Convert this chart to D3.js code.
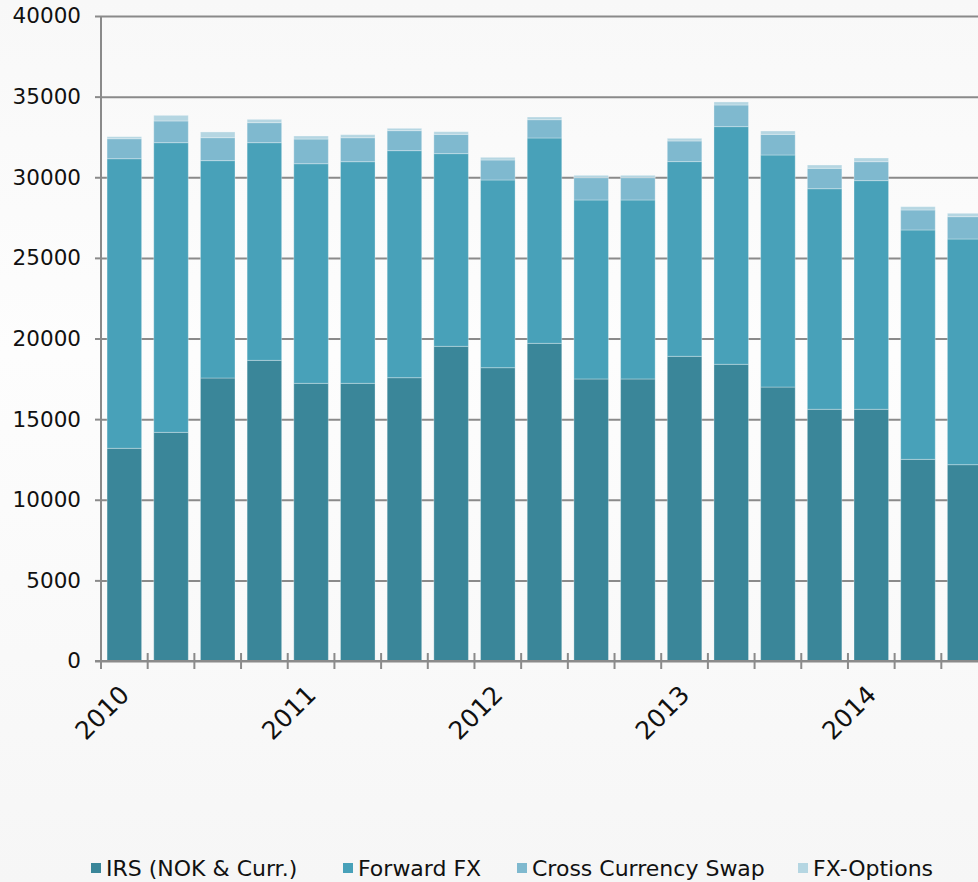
<!DOCTYPE html>
<html>
<head>
<meta charset="utf-8">
<script src="https://cdn.jsdelivr.net/npm/d3@7"></script>
<style>
  body { margin: 0; background: #fafafa; }
  #chart svg { display: block; font-family: "DejaVu Sans", Verdana, sans-serif; }
</style>
</head>
<body>
<div id="chart"></div>
<script>
// quarters, only the first of each year gets a label
const quarters = ["2010 Q1","2010 Q2","2010 Q3","2010 Q4","2011 Q1","2011 Q2","2011 Q3","2011 Q4",
  "2012 Q1","2012 Q2","2012 Q3","2012 Q4","2013 Q1","2013 Q2","2013 Q3","2013 Q4",
  "2014 Q1","2014 Q2","2014 Q3"];
const yearLabels = ["2010","2011","2012","2013","2014"];

const seriesNames = ["IRS (NOK & Curr.)", "Forward FX", "Cross Currency Swap", "FX-Options"];
const irs     = [13190,14180,17550,18645,17220,17220,17570,19515,18190,19700,17490,17490,18895,18400,16990,15610,15610,12505,12175];
const forward = [17960,17965,13480,13500,13620,13745,14080,11950,11640,12735,11100,11100,12075,14740,14390,13680,14180,14225,13995];
const ccs     = [1240,1345,1425,1240,1530,1485,1240,1195,1240,1135,1385,1385,1280,1340,1280,1265,1175,1240,1385];
const fxOpt   = [125,350,355,205,190,190,145,165,165,165,145,145,165,190,210,205,230,205,210];
const yTicks = [0,5000,10000,15000,20000,25000,30000,35000,40000];

const colors = ["#3a8699", "#48a1b9", "#7fb9cf", "#b5d6e2"];

const width = 978, height = 882,
    margin = ({ top: 16, right: -10, bottom: 221, left: 101 });

const svg = d3.select("#chart")
  .append("svg")
  .attr("width", width)
  .attr("height", height);

// faint background gradient
const grad = svg.append("defs").append("linearGradient")
  .attr("id", "bg").attr("x1", 0).attr("y1", 0).attr("x2", 0).attr("y2", 1);
grad.append("stop").attr("offset", "0%").attr("stop-color", "#f8f8f8");
grad.append("stop").attr("offset", "40%").attr("stop-color", "#fdfdfd");
grad.append("stop").attr("offset", "100%").attr("stop-color", "#f6f6f6");
svg.append("rect").attr("width", width).attr("height", height).attr("fill", "url(#bg)");

const table = quarters.map((q, i) => ({
  q, irs: irs[i], forward: forward[i], ccs: ccs[i], fxOpt: fxOpt[i]
}));
const keys = ["irs", "forward", "ccs", "fxOpt"];
const stacked = d3.stack().keys(keys)(table);

const x = d3.scaleBand()
  .domain(quarters)
  .range([margin.left, width - margin.right])
  .paddingInner(0.26)
  .paddingOuter(0.13);

const y = d3.scaleLinear()
  .domain([0, 40000])
  .range([height - margin.bottom, margin.top]);

// gridlines + y labels
const yAxis = svg.append("g")
  .attr("transform", `translate(${margin.left},0)`)
  .call(d3.axisLeft(y)
    .tickValues(yTicks)
    .tickSize(6)
    .tickFormat(d3.format("d")));
yAxis.attr("font-size", "21.5px").attr("font-family", null);
yAxis.select(".domain").remove();
yAxis.selectAll(".tick line").clone()
  .attr("x2", width - margin.left);
yAxis.selectAll(".tick line").attr("stroke", "#8a8a8a").attr("stroke-width", 2);
yAxis.selectAll(".tick text")
  .attr("x", -20)
  .attr("fill", "#111");

// bars
svg.append("g")
  .selectAll("g")
  .data(stacked)
  .join("g")
    .attr("fill", (d, i) => colors[i])
  .selectAll("rect")
  .data(d => d)
  .join("rect")
    .attr("x", d => x(d.data.q))
    .attr("width", x.bandwidth())
    .attr("y", d => y(d[1]))
    .attr("height", d => y(d[0]) - y(d[1]))
    .attr("stroke", "rgba(255,255,255,0.3)")
    .attr("stroke-width", 1);

// x axis with a tick at every band edge
const step = x.step();
const edges = quarters.map((q, i) => margin.left + i * step);
const xg = svg.append("g");
xg.append("line")
  .attr("x1", margin.left - 6).attr("x2", width)
  .attr("y1", y(0)).attr("y2", y(0))
  .attr("stroke", "#8a8a8a").attr("stroke-width", 2);
xg.selectAll(".xt")
  .data(edges)
  .join("line")
    .attr("class", "xt")
    .attr("x1", d => d).attr("x2", d => d)
    .attr("y1", y(0) - 8).attr("y2", y(0) + 8)
    .attr("stroke", "#8a8a8a").attr("stroke-width", 2);
// y axis line
svg.append("line")
  .attr("x1", margin.left).attr("x2", margin.left)
  .attr("y1", y(40000)).attr("y2", y(0) + 8)
  .attr("stroke", "#8a8a8a").attr("stroke-width", 2);

// year labels under the first quarter of each year
xg.selectAll(".yl")
  .data(yearLabels)
  .join("text")
    .attr("class", "yl")
    .attr("transform", d => `translate(${x(d + " Q1") + x.bandwidth() / 2 - 6},${y(0) + 23}) rotate(-45)`)
    .attr("text-anchor", "end")
    .attr("dy", "0.7em")
    .attr("fill", "#111")
    .attr("font-size", "25px")
    .text(d => d);

// legend, item offsets follow the original layout
const legendX = [0, 252, 426, 707];
const legend = svg.append("g").attr("transform", `translate(91,868)`);
seriesNames.forEach((name, i) => {
  const g = legend.append("g").attr("transform", `translate(${legendX[i]},0)`);
  g.append("rect")
    .attr("y", -5).attr("width", 10).attr("height", 10)
    .attr("fill", colors[i]);
  g.append("text")
    .attr("x", 15).attr("dy", "0.36em")
    .attr("fill", "#111")
    .attr("font-size", "22px")
    .text(name);
});
</script>
</body>
</html>
